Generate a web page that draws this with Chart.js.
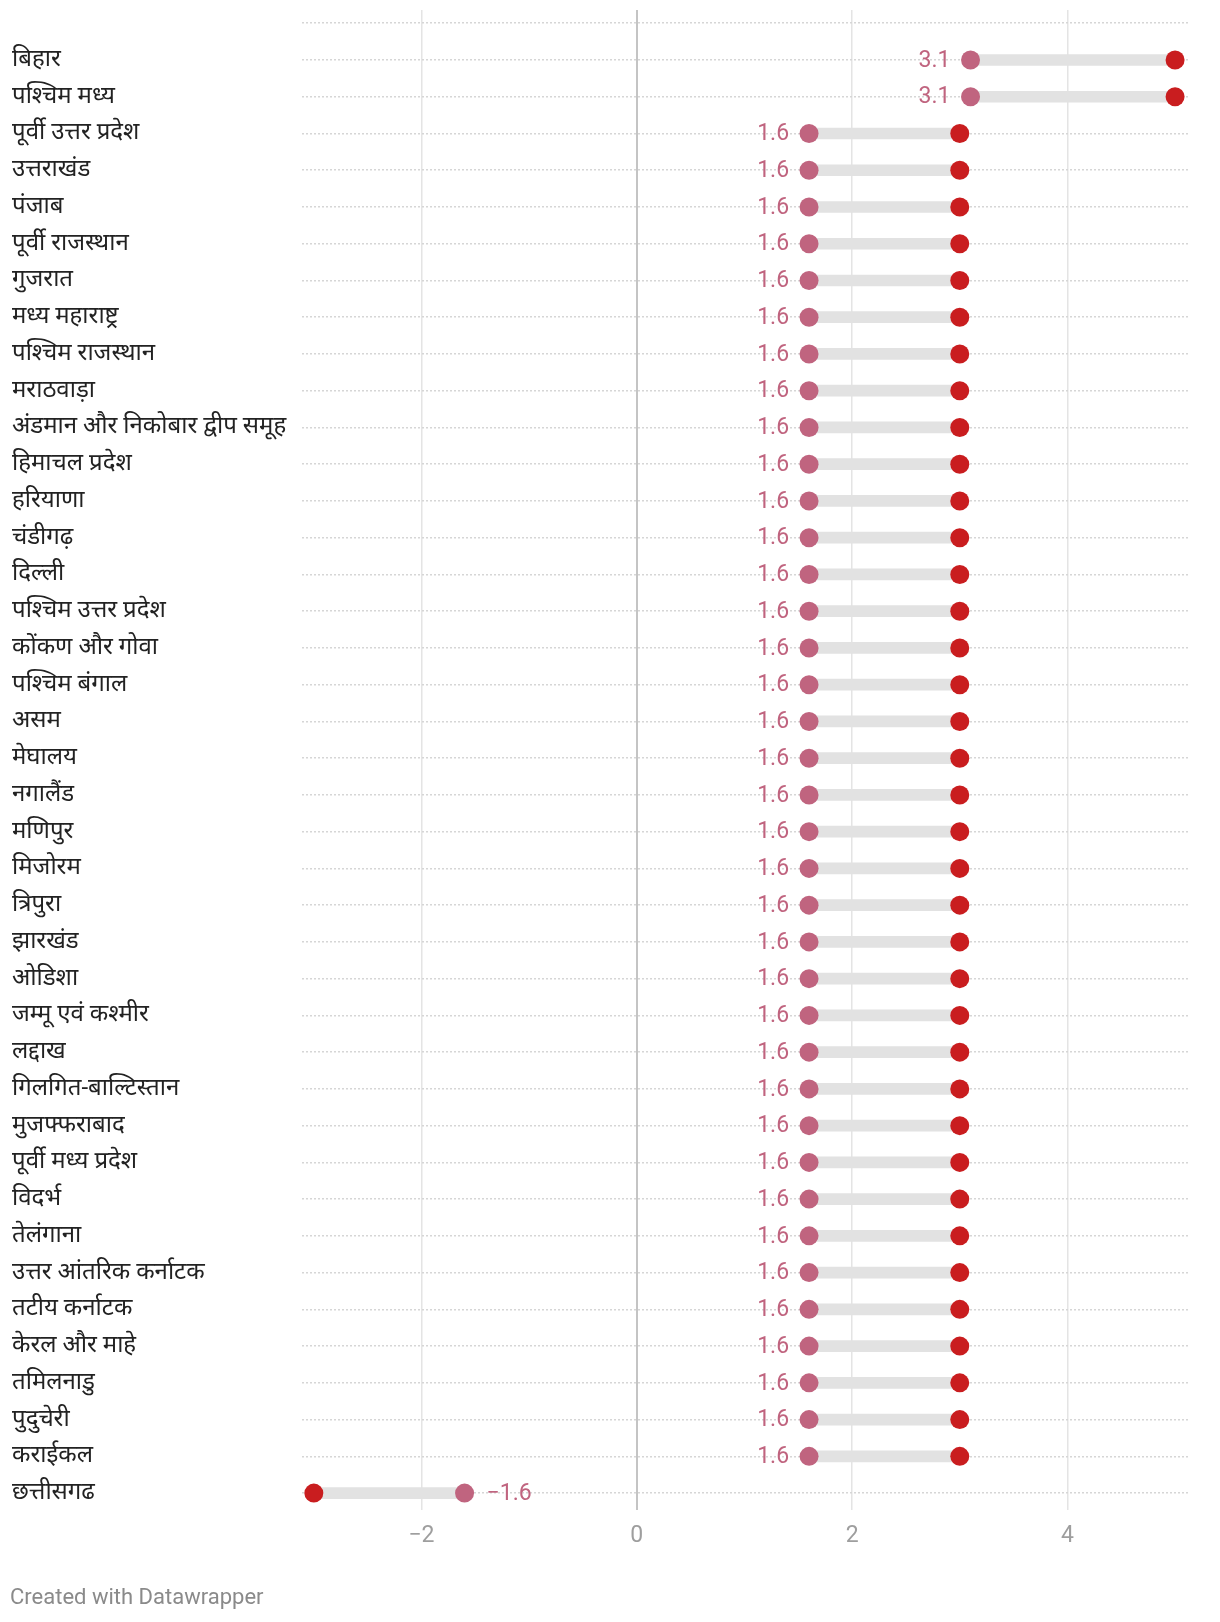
<!DOCTYPE html>
<html>
<head>
<meta charset="utf-8">
<script src="https://cdn.jsdelivr.net/npm/chart.js@4/dist/chart.umd.min.js"></script>
<style>
  html, body { margin: 0; padding: 0; background: #fff; }
  #wrap { position: relative; width: 1220px; height: 1622px; }
  #c { position: absolute; left: 0; top: 0; }
  #footer { position: absolute; left: 10px; top: 1584px; font-family: Roboto, "Noto Sans", sans-serif; font-size: 22px; color: #8a8a8a; }
</style>
</head>
<body>
<div id="wrap">
  <canvas id="c" width="1220" height="1622"></canvas>
  <div id="footer">Created with Datawrapper</div>
</div>
<script>
const categories = [
  'बिहार', 'पश्चिम मध्य', 'पूर्वी उत्तर प्रदेश', 'उत्तराखंड', 'पंजाब', 'पूर्वी राजस्थान', 'गुजरात',
  'मध्य महाराष्ट्र', 'पश्चिम राजस्थान', 'मराठवाड़ा', 'अंडमान और निकोबार द्वीप समूह', 'हिमाचल प्रदेश',
  'हरियाणा', 'चंडीगढ़', 'दिल्ली', 'पश्चिम उत्तर प्रदेश', 'कोंकण और गोवा', 'पश्चिम बंगाल', 'असम',
  'मेघालय', 'नगालैंड', 'मणिपुर', 'मिजोरम', 'त्रिपुरा', 'झारखंड', 'ओडिशा', 'जम्मू एवं कश्मीर', 'लद्दाख',
  'गिलगित-बाल्टिस्तान', 'मुजफ्फराबाद', 'पूर्वी मध्य प्रदेश', 'विदर्भ', 'तेलंगाना', 'उत्तर आंतरिक कर्नाटक',
  'तटीय कर्नाटक', 'केरल और माहे', 'तमिलनाडु', 'पुदुचेरी', 'कराईकल', 'छत्तीसगढ'
];
const startValues = [
  3.1, 3.1, 1.6, 1.6, 1.6, 1.6, 1.6, 1.6, 1.6, 1.6, 1.6, 1.6, 1.6, 1.6, 1.6, 1.6, 1.6, 1.6, 1.6, 1.6,
  1.6, 1.6, 1.6, 1.6, 1.6, 1.6, 1.6, 1.6, 1.6, 1.6, 1.6, 1.6, 1.6, 1.6, 1.6, 1.6, 1.6, 1.6, 1.6, -1.6
];
const endValues = [
  5, 5, 3, 3, 3, 3, 3, 3, 3, 3, 3, 3, 3, 3, 3, 3, 3, 3, 3, 3,
  3, 3, 3, 3, 3, 3, 3, 3, 3, 3, 3, 3, 3, 3, 3, 3, 3, 3, 3, -3
];
const xTicks = [-2, 0, 2, 4];

const PINK = '#c0647f';
const RED = '#c91d1f';
const LABEL_FONT = 'Roboto, "Noto Sans", sans-serif';

const barData = categories.map((c, i) => ({ x: [startValues[i], endValues[i]], y: i }));
const startPts = categories.map((c, i) => ({ x: startValues[i], y: i }));
const endPts = categories.map((c, i) => ({ x: endValues[i], y: i }));

const valueLabels = {
  id: 'valueLabels',
  afterDatasetsDraw(chart) {
    const ctx = chart.ctx;
    const xs = chart.scales.x, ys = chart.scales.y;
    ctx.save();
    ctx.font = '23px ' + LABEL_FONT;
    ctx.fillStyle = PINK;
    ctx.textBaseline = 'middle';
    categories.forEach((c, i) => {
      const s = startValues[i], e = endValues[i];
      const px = xs.getPixelForValue(s);
      const py = ys.getPixelForValue(i);
      const txt = (s < 0 ? '\u2212' : '') + Math.abs(s).toFixed(1);
      if (s <= e) { ctx.textAlign = 'right'; ctx.fillText(txt, px - 20, py + 1); }
      else { ctx.textAlign = 'left'; ctx.fillText(txt, px + 22, py + 1); }
    });
    ctx.restore();
  }
};

new Chart(document.getElementById('c'), {
  type: 'bar',
  data: {
    datasets: [
      { type: 'scatter', data: startPts, backgroundColor: PINK, borderWidth: 0, pointRadius: 9.5, pointHoverRadius: 9.5, order: 1 },
      { type: 'scatter', data: endPts, backgroundColor: RED, borderWidth: 0, pointRadius: 9.5, pointHoverRadius: 9.5, order: 2 },
      { type: 'bar', data: barData, backgroundColor: '#e2e2e2', barThickness: 11, borderSkipped: false, order: 3 }
    ]
  },
  options: {
    indexAxis: 'y',
    responsive: false,
    animation: false,
    events: [],
    layout: { padding: { left: 12, right: 32, top: 10, bottom: 0 } },
    plugins: { legend: { display: false }, tooltip: { enabled: false } },
    scales: {
      x: {
        type: 'linear',
        min: -3.11, max: 5.12,
        afterBuildTicks(scale) { scale.ticks = xTicks.map(v => ({ value: v })); },
        afterFit(scale) { scale.height = 112; },
        border: { display: false },
        grid: {
          drawTicks: false,
          color: ctx => ctx.tick && ctx.tick.value === 0 ? '#c4c4c4' : '#e4e4e4',
          lineWidth: ctx => ctx.tick && ctx.tick.value === 0 ? 2 : 1.5
        },
        ticks: {
          padding: 12,
          color: '#9e9e9e',
          font: { family: LABEL_FONT, size: 23 },
          callback: v => (v < 0 ? '\u2212' : '') + Math.abs(v)
        }
      },
      y: {
        type: 'linear',
        reverse: true,
        offset: false,
        min: -1.36, max: 39.46,
        afterBuildTicks(scale) {
          const t = [{ value: -1 }];
          categories.forEach((c, i) => t.push({ value: i }));
          scale.ticks = t;
        },
        afterFit(scale) { scale.width = 290; scale.paddingTop = 0; scale.paddingBottom = 0; },
        border: { display: false, dash: [2, 2] },
        grid: {
          offset: false,
          drawTicks: false,
          color: '#d6d6d6',
          lineWidth: 1.5
        },
        ticks: {
          crossAlign: 'far',
          padding: 0,
          color: '#222',
          font: { family: LABEL_FONT, size: 24, lineHeight: 0.8 },
          callback: v => (v >= 0 && v < categories.length) ? categories[v] : ''
        }
      }
    }
  },
  plugins: [valueLabels]
});
</script>
</body>
</html>
